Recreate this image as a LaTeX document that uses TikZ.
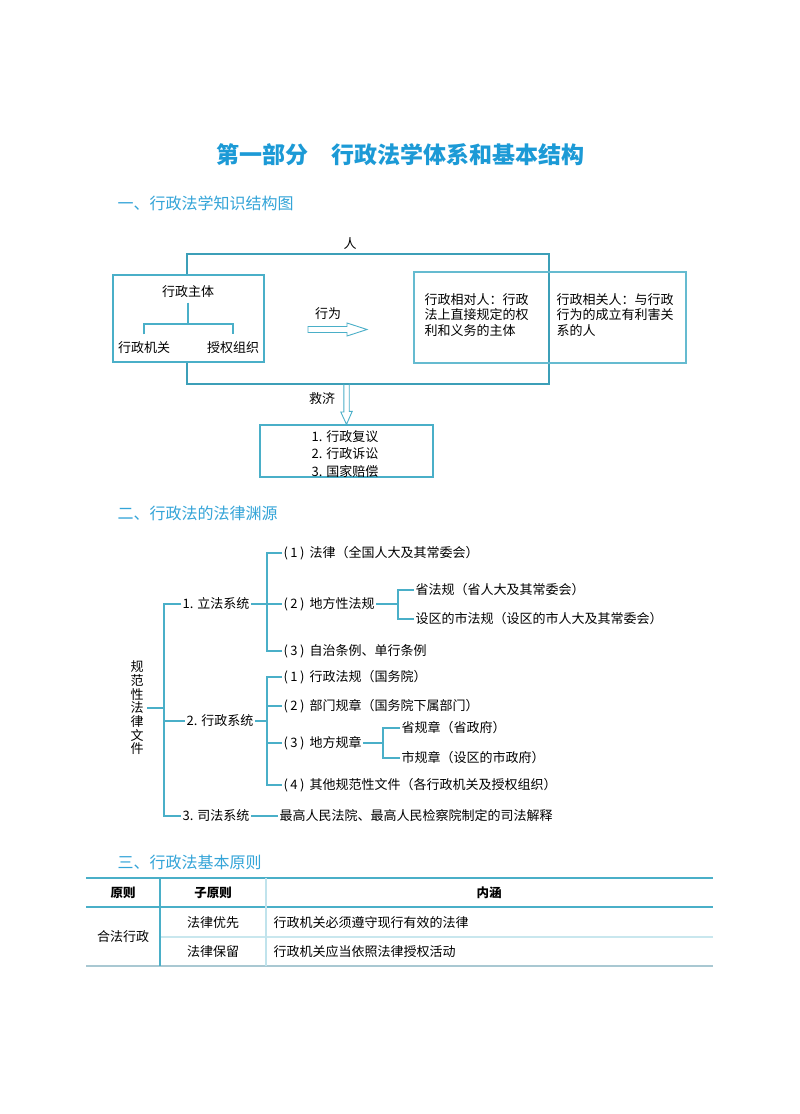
\documentclass[tikz,border=0pt]{standalone}
\usepackage{fontspec}
\setmainfont{Noto Sans CJK SC}
\usepackage{xcolor}
\usepackage{tikz}
\usetikzlibrary{positioning, arrows.meta}
\definecolor{sCyan}{HTML}{4AAFC8}
\definecolor{sFrame}{HTML}{3C9FB8}
\definecolor{sTitle}{HTML}{1C9AD6}
\definecolor{sHead}{HTML}{33A4D8}
\definecolor{sRule}{HTML}{A9C8D2}
\newcommand{\itemno}[1]{(\hspace{2.5pt}#1\hspace{2.5pt})\hspace{5pt}}

\begin{document}
\begin{tikzpicture}[x=1pt, y=-1pt, line width=1.2pt,
  txt/.style={font=\fontsize{13}{15.5}\selectfont, inner sep=1pt},
  leaf/.style={txt, anchor=west},
  head/.style={font=\fontsize{16}{18}\selectfont, text=sHead, anchor=west, inner sep=0pt},
  link/.style={draw=sCyan},
  th/.style={font=\fontsize{12.5}{14}\selectfont\bfseries, inner sep=1pt},
  td/.style={font=\fontsize{13}{15}\selectfont, inner sep=1pt}]
  \fill[white] (0,0) rectangle (800,1114);
  \useasboundingbox (0,0) rectangle (800,1114);

  % headings
  \node[font=\fontsize{23}{26}\selectfont\bfseries, text=sTitle] (title) at (400,155) {第一部分\hspace{1em}行政法学体系和基本结构};
  \node[head] (secA) at (117,203) {一、行政法学知识结构图};
  \node[head] (secB) at (117,513) {二、行政法的法律渊源};
  \node[head] (secC) at (117,862) {三、行政法基本原则};

  % part one: frame of the person
  \coordinate (frameNW) at (187,254);
  \coordinate (frameSE) at (549,384);
  \draw[sFrame] (frameNW) rectangle (frameSE);
  \node[txt] (person) at (350,244) {人};

  \node[draw=sCyan, fill=white, minimum width=151pt, minimum height=87pt, inner sep=0pt] (subjBox) at (188.5,318.5) {};
  \node[txt, inner sep=4pt] (subj) at (188,292) {行政主体};
  \node[txt, inner ysep=7pt] (organ) at (144,348) {行政机关};
  \node[txt, inner ysep=7pt] (auth) at (233,348) {授权组织};
  \coordinate (fork) at (188,324);
  \draw[link] (subj.south) -- (fork);
  \draw[link] (organ.north) |- (fork) -| (auth.north);

  \node[txt] (act) at (328,314) {行为};
  \coordinate (actTail) at (308,329.5);
  \draw[sCyan, line width=0.9pt] (actTail) ++(0,-3) -- ++(39,0) -- ++(0,-3.5) -- ++(20,6.5) -- ++(-20,6.5) -- ++(0,-3.5) -- ++(-39,0) -- cycle;

  \node[draw=sCyan!85, minimum width=272pt, minimum height=91pt, inner sep=0pt] (partyBox) at (550,317.5) {};
  \node[txt, align=left, anchor=west] (direct) at (423,315) {行政相对人：行政\\法上直接规定的权\\利和义务的主体};
  \node[txt, align=left, anchor=west] (related) at (555,315) {行政相关人：与行政\\行为的成立有利害关\\系的人};

  % relief
  \node[txt] (reliefLbl) at (322,399) {救济};
  \node[draw=sCyan, minimum width=173pt, minimum height=52pt, inner sep=0pt] (remedy) at (346.5,451) {};
  \node[align=left, anchor=west, inner sep=0pt, font=\fontsize{13}{17.5}\selectfont] (remedyList) at (311,454) {1. 行政复议\\2. 行政诉讼\\3. 国家赔偿};
  \coordinate (reliefTop) at (346.5,384);
  \draw[sCyan, line width=0.9pt] (reliefTop) ++(-2.7,0) -- ++(0,28) -- ++(-3,0) -- (remedy.north) -- ++(5.7,-13) -- ++(-3,0) -- ++(0,-28);

  % part two: sources
  \node[txt, align=center, inner xsep=3pt, font=\fontsize{13}{13.7}\selectfont] (root) at (137,708) {规\\范\\性\\法\\律\\文\\件};
  \node[leaf] (sysA) at (181,604) {1. 立法系统};
  \node[leaf] (sysB) at (185,721) {2. 行政系统};
  \node[leaf] (sysC) at (181,816) {3. 司法系统};
  \coordinate (busRoot) at (164,708);
  \draw[link] (root.east) -- (busRoot);
  \draw[link] (sysA.west) -| (busRoot) |- (sysC.west);
  \draw[link] (busRoot) |- (sysB.west);

  \node[leaf] (lawA) at (282,553) {\itemno{1}法律（全国人大及其常委会）};
  \node[leaf] (lawB) at (282,604) {\itemno{2}地方性法规};
  \node[leaf] (lawC) at (282,651) {\itemno{3}自治条例、单行条例};
  \coordinate (busA) at (267,604);
  \draw[link] (sysA.east) -- (busA);
  \draw[link] (lawA.west) -| (busA) |- (lawC.west);
  \draw[link] (busA) -- (lawB.west);

  \node[leaf] (provLaw) at (414,590) {省法规（省人大及其常委会）};
  \node[leaf] (cityLaw) at (414,619) {设区的市法规（设区的市人大及其常委会）};
  \coordinate (busL) at (398,604);
  \draw[link] (lawB.east) -- (busL);
  \draw[link] (provLaw.west) -| (busL) |- (cityLaw.west);

  \node[leaf] (regA) at (282,677) {\itemno{1}行政法规（国务院）};
  \node[leaf] (regB) at (282,706) {\itemno{2}部门规章（国务院下属部门）};
  \node[leaf] (regC) at (282,743) {\itemno{3}地方规章};
  \node[leaf] (regD) at (282,785) {\itemno{4}其他规范性文件（各行政机关及授权组织）};
  \coordinate (busB) at (267,721);
  \draw[link] (sysB.east) -- (busB);
  \draw[link] (regA.west) -| (busB) |- (regD.west);
  \draw[link] (regB.west) -| (busB);
  \draw[link] (busB) |- (regC.west);

  \node[leaf] (provReg) at (400,728) {省规章（省政府）};
  \node[leaf] (cityReg) at (400,758) {市规章（设区的市政府）};
  \coordinate (busR) at (383,743);
  \draw[link] (regC.east) -- (busR);
  \draw[link] (provReg.west) -| (busR) |- (cityReg.west);

  \node[leaf] (interp) at (278,816) {最高人民法院、最高人民检察院制定的司法解释};
  \draw[link] (sysC.east) -- (interp.west);

  % part three: table
  \draw[sCyan, line width=2pt] (86,878) -- (713,878);
  \draw[sCyan] (86,907) -- (713,907);
  \draw[sCyan!30] (160,937) -- (713,937);
  \draw[sRule, line width=1.6pt] (86,966) -- (713,966);
  \draw[sCyan] (160,878) -- (160,966);
  \draw[sCyan!35] (266,878) -- (266,966);
  \node[th] (hPrin) at (123,893) {原则};
  \node[th] (hSub) at (213,893) {子原则};
  \node[th] (hMean) at (489,893) {内涵};
  \node[td] (prin) at (123,937) {合法行政};
  \node[td] (subA) at (213,923) {法律优先};
  \node[td] (subB) at (213,952) {法律保留};
  \node[td, anchor=west] (meanA) at (272,923) {行政机关必须遵守现行有效的法律};
  \node[td, anchor=west] (meanB) at (272,952) {行政机关应当依照法律授权活动};
\end{tikzpicture}
\end{document}
